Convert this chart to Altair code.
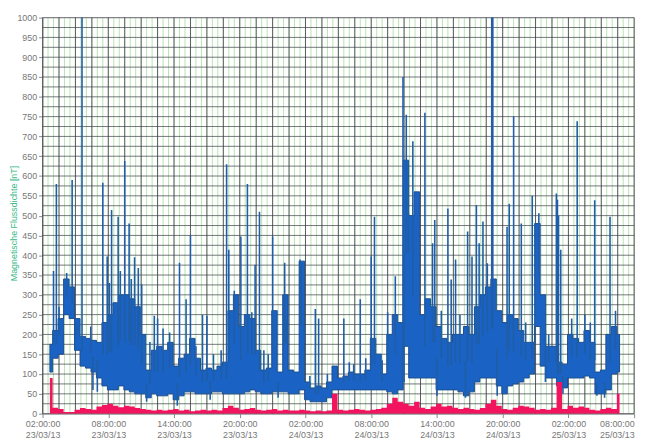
import altair as alt
import pandas as pd

BASE = pd.Timestamp("2013-03-23 02:00:00")
END = pd.Timestamp("2013-03-25 08:00:00")

# band sampled every 30 min starting 0.67 h after 02:00 23/03/13
band_start_h = 0.67
band_step_h = 0.5
band_lo = [105, 140, 150, 250, 240, 160, 120, 115, 105, 90,
           70, 60, 60, 70, 60, 55, 50, 50, 40, 50,
           45, 45, 50, 35, 45, 55, 55, 50, 50, 50,
           55, 55, 50, 50, 50, 50, 55, 60, 55, 50,
           50, 55, 55, 55, 50, 50, 60, 35, 30, 30,
           30, 40, 60, 60, 60, 60, 60, 60, 60, 60,
           60, 60, 55, 50, 60, 170, 90, 90, 90, 90,
           90, 60, 60, 60, 60, 55, 45, 55, 80, 90,
           90, 90, 70, 50, 70, 75, 80, 90, 100, 220,
           120, 90, 90, 70, 65, 90, 90, 90, 95, 90,
           50, 50, 60, 100, 105]
band_hi = [175, 210, 240, 340, 320, 240, 195, 190, 185, 180,
           230, 250, 280, 300, 300, 290, 270, 200, 110, 160,
           170, 160, 180, 120, 140, 150, 190, 140, 110, 115,
           110, 120, 130, 260, 300, 220, 250, 240, 160, 110,
           115, 260, 105, 300, 110, 105, 385, 80, 65, 70,
           65, 80, 120, 90, 95, 105, 100, 100, 110, 190,
           150, 100, 200, 250, 230, 640, 500, 560, 250, 290,
           270, 220, 190, 180, 200, 200, 220, 200, 270, 300,
           320, 340, 260, 230, 250, 240, 210, 180, 180, 480,
           300, 170, 170, 130, 125, 200, 190, 180, 210, 180,
           105, 110, 200, 220, 200]
red_vals = [90, 15, 12, 4, 4, 10, 14, 12, 10, 18,
            22, 25, 20, 16, 20, 18, 14, 12, 10, 8,
            10, 8, 10, 12, 8, 10, 6, 8, 10, 8,
            10, 8, 14, 20, 15, 10, 12, 14, 10, 8,
            10, 12, 8, 10, 8, 8, 10, 8, 6, 8,
            6, 8, 50, 10, 8, 10, 12, 10, 8, 10,
            12, 15, 25, 40, 30, 25, 20, 30, 15, 12,
            18, 25, 18, 20, 15, 12, 15, 12, 10, 14,
            25, 35, 20, 12, 10, 15, 20, 18, 15, 10,
            12, 10, 15, 80, 12, 20, 15, 18, 15, 10,
            8, 12, 15, 12, 50]

# narrow spikes: hours after 02:00 23/03/13 and peak value [nT]
spike_h = [1.0, 1.26, 2.2, 2.7, 3.6, 5.5, 5.9, 6.3, 6.9, 7.5,
           7.9, 8.4, 8.74, 9.05, 9.8, 10.2, 10.5, 12.5, 13.1, 13.5,
           14.6, 15.0, 16.8, 17.0, 17.5, 18.1, 18.7, 19.1, 19.4, 19.8,
           21.0, 22.1, 22.3, 23.5, 23.6, 23.9, 24.9, 25.2,
           27.5, 29.0, 30.0, 30.3, 31.5, 32.2, 32.9, 33.2, 33.4, 33.8,
           34.9, 35.6, 35.8, 37.0, 37.3, 37.7, 38.8, 39.2, 39.6, 39.85,
           40.2, 41.0, 41.1, 42.4, 42.6, 43.0, 43.7, 44.7,
           45.3, 46.9, 47.0, 47.1, 47.3, 48.8, 50.4, 51.8,
           # smaller bursts on top of the band
           1.5, 3.1, 4.4, 6.1, 7.1, 8.1, 11.0, 11.6, 14.0, 15.6,
           16.3, 20.2, 20.6, 24.4, 26.0, 28.0, 28.4, 29.5, 31.0, 36.4,
           38.1, 40.6, 44.1, 46.2, 48.3, 49.5, 50.0, 52.3]
spike_peak = [360, 580, 355, 590, 1050, 583, 397, 514, 497, 638,
              480, 395, 368, 327, 181, 247, 240, 381, 289, 451,
              250, 247, 630, 414, 310, 447, 580, 256, 376, 510,
              447, 381, 240, 389, 380, 190, 264, 240,
              240, 289, 397, 497, 256, 347, 850, 755, 506, 688,
              760, 430, 489, 518, 339, 389, 460, 397, 527, 430,
              485, 1050, 1050, 472, 530, 751, 480, 550,
              506, 556, 540, 500, 414, 738, 539, 497,
              270, 230, 220, 330, 360, 340, 215, 205, 170, 150,
              160, 160, 150, 95, 100, 130, 125, 140, 135, 260,
              250, 380, 230, 200, 240, 250, 230, 260]

# short dips below the band: hours and lowest value [nT]
dip_h = [4.6, 5.0, 9.5, 12.3, 15.3, 21.5, 33.0, 36.0, 38.6, 41.5, 45.9, 47.5, 50.6, 51.3]
dip_low = [60, 55, 30, 20, 35, 40, 80, 45, 40, 45, 80, 50, 45, 40]

y_label_values = list(range(0, 1001, 50))
y_grid_values = list(range(0, 1001, 25))
x_tick_hours = [0, 6, 12, 18, 24, 30, 36, 42, 48, 54]


def iso(ts):
    return ts.strftime("%Y-%m-%dT%H:%M:%S")


band_t = [iso(BASE + pd.Timedelta(hours=band_start_h + band_step_h * i)) for i in range(len(band_lo))]
band_df = pd.DataFrame({"t": band_t, "lo": band_lo, "hi": band_hi, "red": red_vals})

band_hours = [band_start_h + band_step_h * i for i in range(len(band_lo))]


def nearest(h):
    return min(range(len(band_hours)), key=lambda k: abs(band_hours[k] - h))


spike_df = pd.DataFrame({
    "t": [iso(BASE + pd.Timedelta(hours=h)) for h in spike_h],
    "base": [(band_lo[nearest(h)] + band_hi[nearest(h)]) / 2 for h in spike_h],
    "peak": spike_peak,
})
dip_df = pd.DataFrame({
    "t": [iso(BASE + pd.Timedelta(hours=h)) for h in dip_h],
    "base": [(band_lo[nearest(h)] + band_hi[nearest(h)]) / 2 for h in dip_h],
    "low": dip_low,
})

minor_t = [iso(BASE + pd.Timedelta(minutes=30 * k)) for k in range(0, 54 * 2 + 1)]
major_t = [iso(BASE + pd.Timedelta(minutes=90 * k)) for k in range(0, 37)]
vminor_df = pd.DataFrame({"t": minor_t})
vmajor_df = pd.DataFrame({"t": major_t})
hgrid_df = pd.DataFrame({"v": y_grid_values})

xscale = alt.Scale(domain=[iso(BASE), iso(END)])
yscale = alt.Scale(domain=[0, 1000])

tick_vals = [alt.DateTime(year=2013, month=3, date=(BASE + pd.Timedelta(hours=h)).day,
                          hours=(BASE + pd.Timedelta(hours=h)).hour) for h in x_tick_hours]

xaxis = alt.Axis(
    values=tick_vals,
    labelExpr="[timeFormat(datum.value, '%H:%M:%S'), timeFormat(datum.value, '%d/%m/%y')]",
    labelAlign=alt.ExprRef("datum.index >= 0.999 ? 'right' : 'center'"),
    title=None, grid=False, labelFont="Liberation Sans", labelFontSize=9,
    labelColor="#777777", labelLineHeight=11, labelPadding=2, tickSize=4,
    tickColor="#888888", domainColor="#999999", labelOverlap=False,
    labelBound=False, labelFlush=False,
)
yaxis = alt.Axis(
    values=y_label_values, format="d", title="Magnetische Flussdichte [nT]", grid=False,
    labelFont="Liberation Sans", labelFontSize=9, labelColor="#777777",
    tickSize=4, tickColor="#888888", domainColor="#999999",
    titleFont="Liberation Sans", titleFontSize=9, titleFontWeight="normal",
    titleColor="#36b888", titleX=-29, titleY=208, titleAngle=270,
    titleAlign="center", titleBaseline="middle", labelOverlap=False,
)

vminor = alt.Chart(vminor_df).mark_rule(color="#a8dca0", strokeWidth=0.8).encode(
    x=alt.X("t:T", scale=xscale, axis=xaxis))
vmajor = alt.Chart(vmajor_df).mark_rule(color="#3c3c46", strokeWidth=0.8).encode(
    x=alt.X("t:T", scale=xscale, axis=xaxis))
hgrid = alt.Chart(hgrid_df).mark_rule(color="#3c3c46", strokeWidth=0.7).encode(
    y=alt.Y("v:Q", scale=yscale, axis=yaxis))

band = alt.Chart(band_df).mark_area(
    color="#1a62c4", stroke="#1c4f8e", strokeWidth=1, interpolate="step", clip=True
).encode(
    x=alt.X("t:T", scale=xscale, axis=xaxis),
    y=alt.Y("lo:Q", scale=yscale, axis=yaxis),
    y2="hi:Q",
)
spikes = alt.Chart(spike_df).mark_rule(color="#1f5ea6", strokeWidth=1.6, clip=True).encode(
    x=alt.X("t:T", scale=xscale, axis=xaxis),
    y=alt.Y("base:Q", scale=yscale, axis=yaxis),
    y2="peak:Q",
)
dips = alt.Chart(dip_df).mark_rule(color="#1f5ea6", strokeWidth=1.6, clip=True).encode(
    x=alt.X("t:T", scale=xscale, axis=xaxis),
    y=alt.Y("base:Q", scale=yscale, axis=yaxis),
    y2="low:Q",
)
red = alt.Chart(band_df).mark_area(color="#f2145e", interpolate="step", clip=True).encode(
    x=alt.X("t:T", scale=xscale, axis=xaxis),
    y=alt.Y("red:Q", scale=yscale, axis=yaxis),
)

chart = alt.layer(vminor, vmajor, hgrid, band, spikes, dips, red).properties(
    width=599, height=401,
    autosize=alt.AutoSizeParams(type="none"),
    padding={"left": 35, "top": 7, "right": 11, "bottom": 27},
).configure_view(stroke=None).configure(background="white")

chart.save("out.html", embed_options={"renderer": "svg", "actions": False})
